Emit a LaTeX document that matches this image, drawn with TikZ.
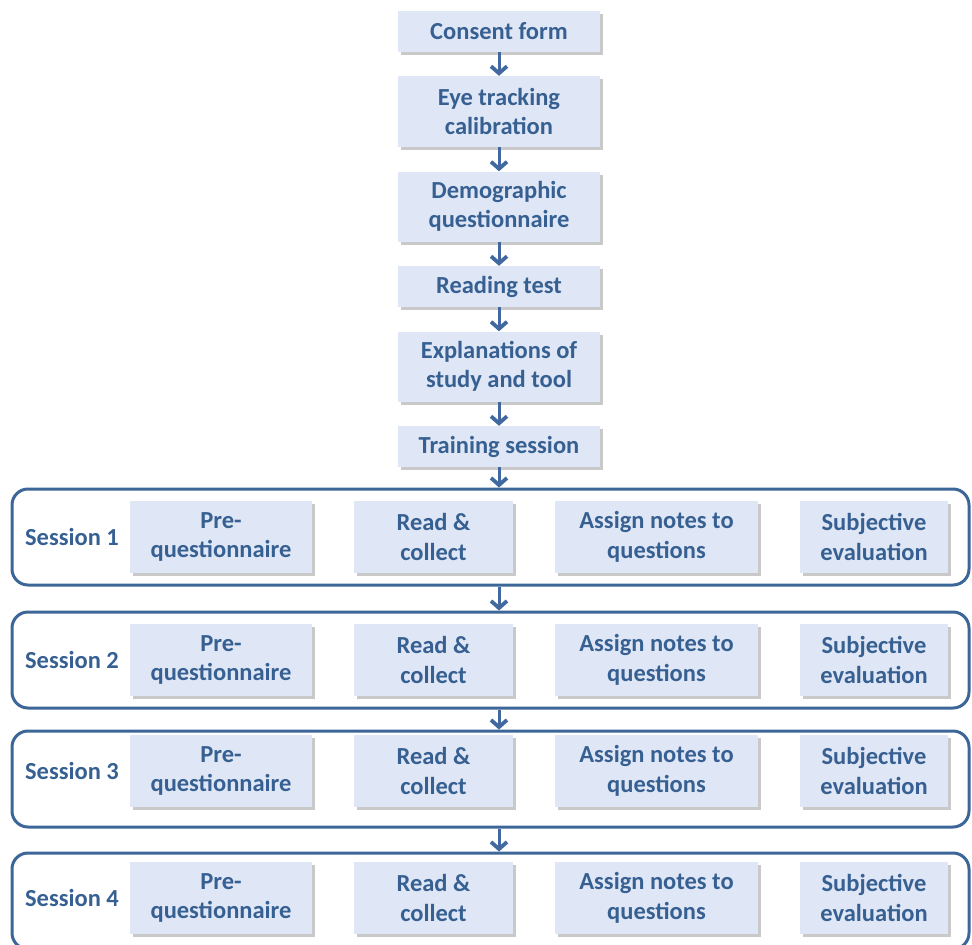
\documentclass[tikz,border=0pt]{standalone}
\usepackage{fontspec}
\setmainfont{Carlito}
\usetikzlibrary{arrows.meta,shadows}

\definecolor{stepfill}{HTML}{DFE6F5}
\definecolor{steptext}{HTML}{376092}
\definecolor{frameblue}{HTML}{3C6698}
\definecolor{arrowblue}{HTML}{4169A0}

\tikzset{
	stepbox/.style={fill=stepfill, minimum width=202pt, minimum height=41pt, inner sep=0pt,
		drop shadow={shadow xshift=3pt, shadow yshift=-3pt, opacity=0.3, fill=black!70}},
	taskbox/.style={stepbox, minimum height=72pt},
	prebox/.style={taskbox, minimum width=182pt},
	readbox/.style={taskbox, minimum width=159pt},
	assignbox/.style={taskbox, minimum width=203pt},
	subjbox/.style={taskbox, minimum width=148pt},
	sessbox/.style={draw=frameblue, line width=3pt, rounded corners=16pt,
		minimum width=957pt, minimum height=96pt, inner sep=0pt},
	flow/.style={arrowblue, line width=3pt, -{Straight Barb[length=7pt,width=16pt,line width=3.8pt]}}
}

\begin{document}
\begin{tikzpicture}[x=1pt, y=1pt, node distance=80pt,
	every node/.style={text=steptext, font=\bfseries\fontsize{24.5}{29.5}\selectfont}, align=center]
	\useasboundingbox (0,0) rectangle (972,-945);

	% Steps before the sessions
	\node (consent)		[stepbox] at (499,-31.5)							{Consent form};
	\node (eyetrack)	[stepbox, below of=consent, minimum height=71pt]	{Eye tracking\\calibration};
	\node (demogr)		[stepbox, below of=eyetrack, yshift=-15pt, minimum height=70pt]
																			{Demographic\\questionnaire};
	\node (reading)		[stepbox, below of=demogr]							{Reading test};
	\node (explain)		[stepbox, below of=reading, minimum height=70pt]	{Explanations of\\study and tool};
	\node (training)	[stepbox, below of=explain]							{Training session};

	% Frames of the four sessions
	\node (sess1)		[sessbox, below of=training, xshift=-8.5pt, yshift=-10.5pt] {};
	\node (sess2)		[sessbox, below of=sess1, yshift=-43pt]				{};
	\node (sess3)		[sessbox, below of=sess2, yshift=-39pt]				{};
	\node (sess4)		[sessbox, below of=sess3, yshift=-42pt]				{};

	% Session 1
	\node (label1)		[left of=sess1, xshift=-338.5pt]					{Session 1};
	\node (pre1)		[prebox, right of=label1, xshift=69pt]				{Pre-\\questionnaire};
	\node (read1)		[readbox, right of=pre1, xshift=132.5pt]			{Read \&\\collect};
	\node (assign1)		[assignbox, right of=read1, xshift=143pt]			{Assign notes to\\questions};
	\node (subj1)		[subjbox, right of=assign1, xshift=137.5pt]			{Subjective\\evaluation};

	% Session 2
	\node (label2)		[left of=sess2, xshift=-338.5pt]					{Session 2};
	\node (pre2)		[prebox, right of=label2, xshift=69pt]				{Pre-\\questionnaire};
	\node (read2)		[readbox, right of=pre2, xshift=132.5pt]			{Read \&\\collect};
	\node (assign2)		[assignbox, right of=read2, xshift=143pt]			{Assign notes to\\questions};
	\node (subj2)		[subjbox, right of=assign2, xshift=137.5pt]			{Subjective\\evaluation};

	% Session 3
	\node (label3)		[left of=sess3, xshift=-338.5pt, yshift=8pt]		{Session 3};
	\node (pre3)		[prebox, right of=label3, xshift=69pt]				{Pre-\\questionnaire};
	\node (read3)		[readbox, right of=pre3, xshift=132.5pt]			{Read \&\\collect};
	\node (assign3)		[assignbox, right of=read3, xshift=143pt]			{Assign notes to\\questions};
	\node (subj3)		[subjbox, right of=assign3, xshift=137.5pt]			{Subjective\\evaluation};

	% Session 4
	\node (label4)		[left of=sess4, xshift=-338.5pt, yshift=3pt]		{Session 4};
	\node (pre4)		[prebox, right of=label4, xshift=69pt]				{Pre-\\questionnaire};
	\node (read4)		[readbox, right of=pre4, xshift=132.5pt]			{Read \&\\collect};
	\node (assign4)		[assignbox, right of=read4, xshift=143pt]			{Assign notes to\\questions};
	\node (subj4)		[subjbox, right of=assign4, xshift=137.5pt]			{Subjective\\evaluation};

	% Arrows between the steps
	\draw[flow]		(consent) -- (eyetrack);
	\draw[flow]		(eyetrack) -- (demogr);
	\draw[flow]		(demogr) -- (reading);
	\draw[flow]		(reading) -- (explain);
	\draw[flow]		(explain) -- (training);
	\draw[flow]		(training) -- (training |- sess1.north);
	\draw[flow]		(sess1.south -| training) -- (sess2.north -| training);
	\draw[flow]		(sess2.south -| training) -- (sess3.north -| training);
	\draw[flow]		(sess3.south -| training) -- (sess4.north -| training);
\end{tikzpicture}
\end{document}
